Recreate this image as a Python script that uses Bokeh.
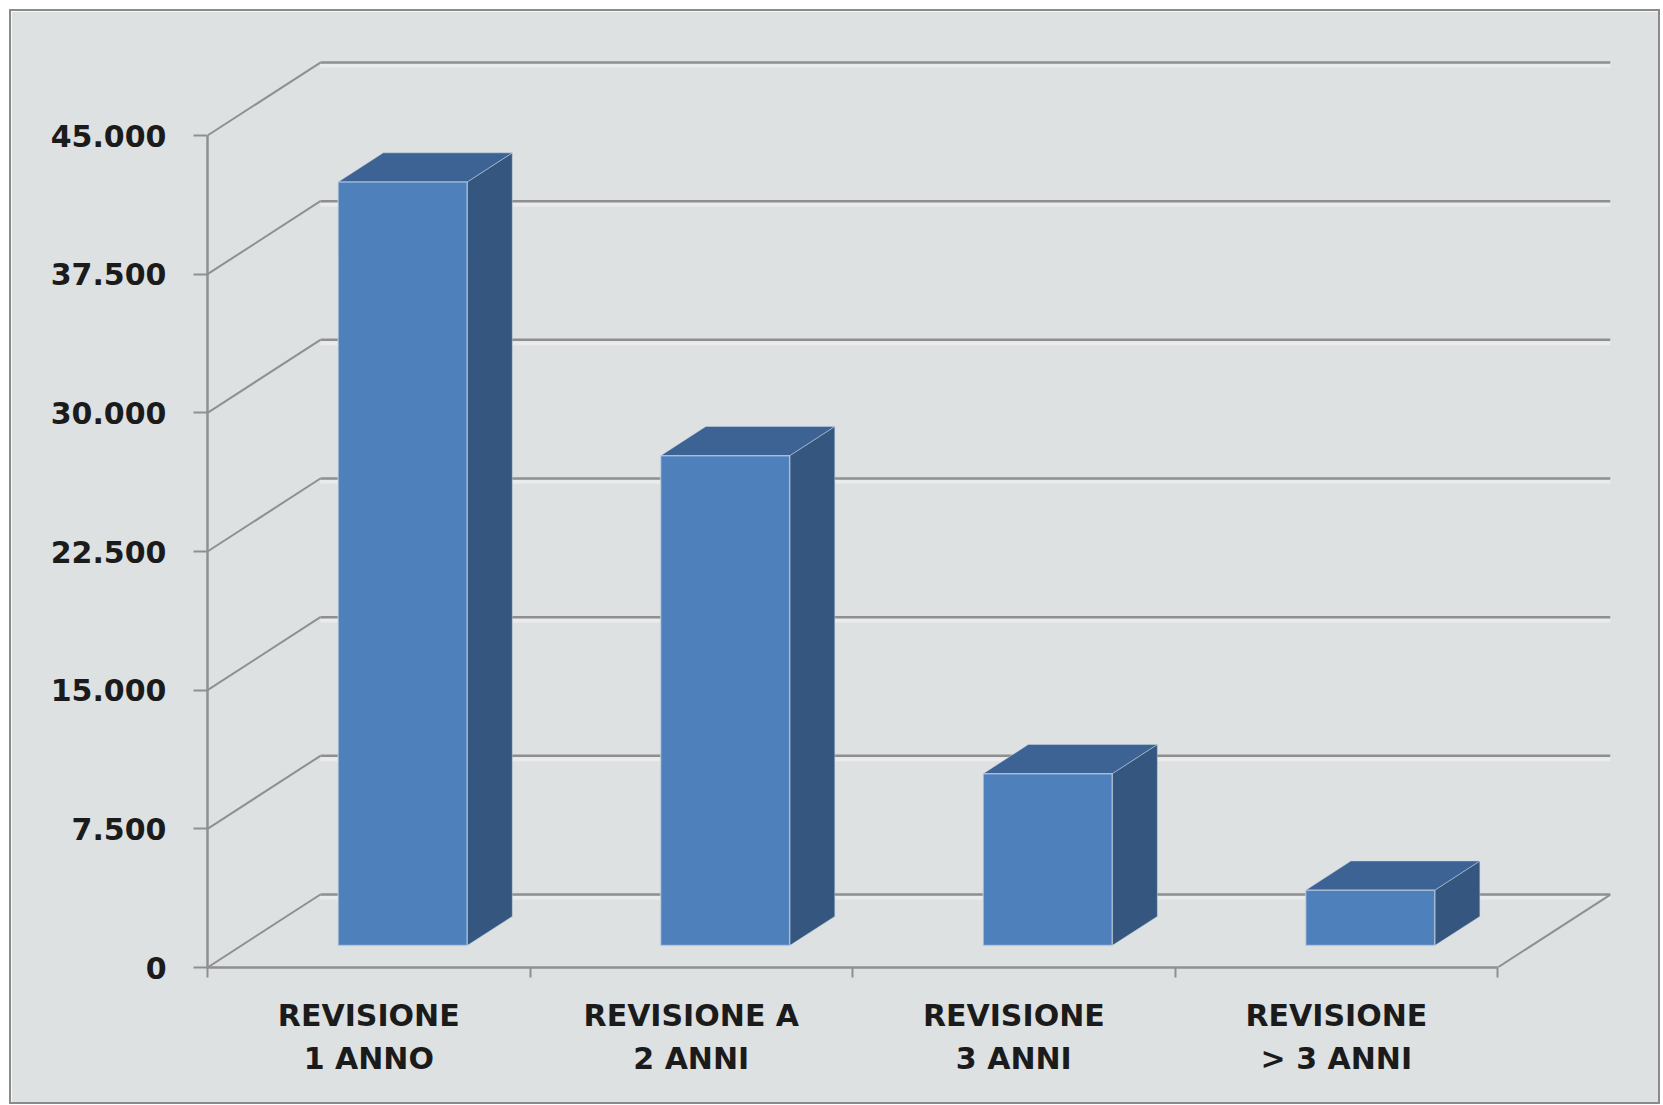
from bokeh.plotting import figure
from bokeh.models import Range1d, FixedTicker
from bokeh.embed import file_html
from bokeh.resources import INLINE

# ---------------- data ----------------
categories = ["REVISIONE\n1 ANNO", "REVISIONE A\n2 ANNI", "REVISIONE\n3 ANNI", "REVISIONE\n> 3 ANNI"]
values = [41300, 26500, 9300, 3000]
y_ticks = [0, 7500, 15000, 22500, 30000, 37500, 45000]
y_tick_labels = ["0", "7.500", "15.000", "22.500", "30.000", "37.500", "45.000"]

# ---------------- 3D (oblique) geometry ----------------
DX = 0.35          # depth shift in category units
DY = 3948          # depth shift in value units
BAR_W = 0.4
D0, D1 = 0.3, 0.7  # bar depth span (fraction of floor depth)
n = len(categories)

GRID = "#8f8f8f"
HALO = "#eceeee"
BG = "#dee1e2"
FRONT = "#4e80bc"
TOP = "#3c6394"
SIDE = "#35577f"

p = figure(width=1647, height=1091, output_backend="svg", toolbar_location=None,
           x_range=Range1d(0, n + DX), y_range=Range1d(0, 50140),
           min_border_left=196, min_border_right=48, min_border_top=29, min_border_bottom=135,
           margin=(11, 5, 3, 11))
p.styles = {"outline": "2px solid #8a8a8a"}
p.background_fill_color = BG
p.border_fill_color = BG
p.outline_line_color = BG
p.outline_line_width = 3
p.xgrid.visible = False
p.ygrid.visible = False

# walls: back-wall horizontals and side-wall diagonals
bx0, bx1, by, sx0, sy0, sx1, sy1 = [], [], [], [], [], [], []
for v in y_ticks:
    bx0.append(DX); bx1.append(n + DX); by.append(v + DY)
    sx0.append(0); sy0.append(v); sx1.append(DX); sy1.append(v + DY)
sx0.append(n); sy0.append(0); sx1.append(n + DX); sy1.append(DY)

p.segment(x0=bx0, y0=[b - 180 for b in by], x1=bx1, y1=[b - 180 for b in by], line_color=HALO, line_width=4, line_alpha=0.8)
p.segment(x0=bx0, y0=by, x1=bx1, y1=by, line_color=GRID, line_width=2.5)
p.segment(x0=sx0, y0=sy0, x1=sx1, y1=sy1, line_color=GRID, line_width=2)

# bars
fl, fr, fb, ft = [], [], [], []
side_xs, side_ys, top_xs, top_ys = [], [], [], []
for i, v in enumerate(values):
    L = i + (1 - BAR_W) / 2 + D0 * DX
    R = L + BAR_W
    b0 = D0 * DY
    t0 = v + D0 * DY
    ddx = (D1 - D0) * DX
    ddy = (D1 - D0) * DY
    fl.append(L); fr.append(R); fb.append(b0); ft.append(t0)
    side_xs.append([R, R, R + ddx, R + ddx])
    side_ys.append([b0, t0, t0 + ddy, b0 + ddy])
    top_xs.append([L, R, R + ddx, L + ddx])
    top_ys.append([t0, t0, t0 + ddy, t0 + ddy])

p.patches(side_xs, side_ys, fill_color=SIDE, line_color="#c9d5e4", line_width=1, line_alpha=0.5)
p.patches(top_xs, top_ys, fill_color=TOP, line_color="#c9d5e4", line_width=1, line_alpha=0.5)
p.quad(left=fl, right=fr, bottom=fb, top=ft, fill_color=FRONT, line_color="#c9d5e4", line_width=1.5, line_alpha=0.6)

# y axis
ya = p.yaxis[0]
ya.ticker = FixedTicker(ticks=y_ticks, minor_ticks=[])
ya.major_label_overrides = {t: s for t, s in zip(y_ticks, y_tick_labels)}
ya.bounds = (0, 45000)
ya.axis_line_color = GRID
ya.axis_line_width = 2.5
ya.major_tick_line_color = GRID
ya.major_tick_line_width = 2
ya.major_tick_out = 14
ya.major_tick_in = 0
ya.minor_tick_line_color = None
ya.major_label_standoff = 27
ya.major_label_text_font = "DejaVu Sans"
ya.major_label_text_font_style = "bold"
ya.major_label_text_font_size = "30px"
ya.major_label_text_color = "#1b1b1b"

# x axis (labels at slot centres, tick marks at slot boundaries)
xa = p.xaxis[0]
centres = [i + 0.5 for i in range(n)]
xa.ticker = FixedTicker(ticks=centres, minor_ticks=list(range(n + 1)))
xa.major_label_overrides = {c: s for c, s in zip(centres, categories)}
xa.bounds = (0, n)
xa.axis_line_color = GRID
xa.axis_line_width = 2.5
xa.major_tick_line_color = None
xa.major_tick_out = 0
xa.major_tick_in = 0
xa.minor_tick_line_color = GRID
xa.minor_tick_line_width = 2
xa.minor_tick_out = 10
xa.minor_tick_in = 0
xa.major_label_standoff = 20
xa.major_label_text_font = "DejaVu Sans"
xa.major_label_text_font_style = "bold"
xa.major_label_text_font_size = "30px"
xa.major_label_text_color = "#1b1b1b"
xa.major_label_text_line_height = 1.25

open("out.html", "w").write(file_html(p, INLINE))
